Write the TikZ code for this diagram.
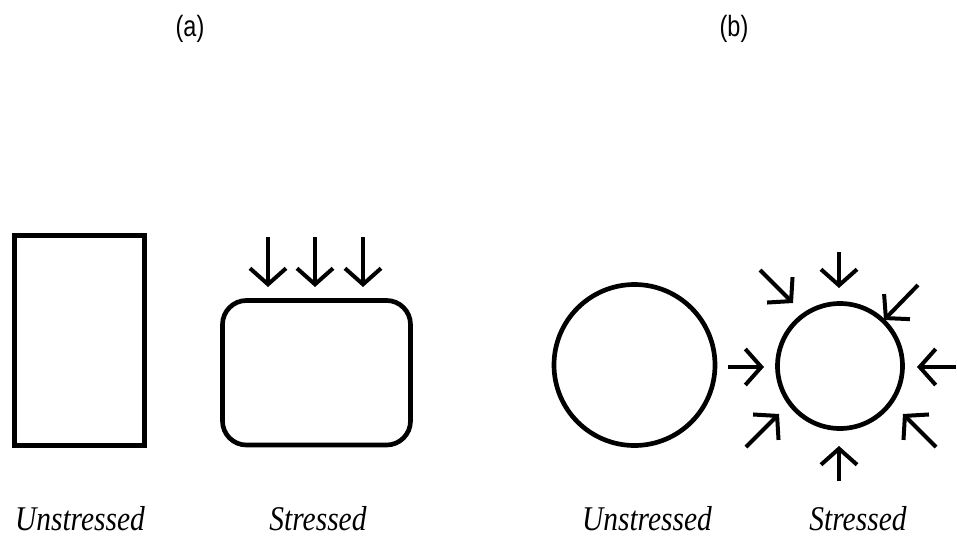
\documentclass[tikz,border=0pt]{standalone}
\usepackage{fontspec}
\setmainfont{Liberation Serif}
\newfontfamily\panelfont{Liberation Sans}
\usetikzlibrary{arrows.meta}

% narrow, tall lettering for the captions and headings
\newcommand{\narrowtext}[2]{\scalebox{#1}[1]{#2}}

\begin{document}
\begin{tikzpicture}[x=0.75pt, y=-0.75pt,
  outline/.style={draw=black, line width=3.5pt, inner sep=0pt, outer sep=0pt},
  push/.style={draw=black, line width=3pt,
    -{Straight Barb[length=12pt, width=27pt]}},
  caption/.style={anchor=base, inner sep=0pt, font=\fontsize{26pt}{30pt}\selectfont\itshape},
  panel/.style={anchor=base, inner sep=0pt, font=\panelfont\fontsize{22pt}{26pt}\selectfont}]

\useasboundingbox (0,0) rectangle (957,540);

% panel headings
\node[panel] (pa) at (190,36) {\narrowtext{0.8}{(a)}};
\node[panel] (pb) at (734,36) {\narrowtext{0.8}{(b)}};

% (a) block before and after loading
\node[outline, rectangle, minimum width=97.5pt, minimum height=157.5pt] (blockU) at (79.5,340.5) {};
\node[outline, rectangle, rounded corners=18pt, minimum width=141pt, minimum height=108.4pt] (blockS) at (316.5,372.75) {};

% vertical loads on the block
\coordinate (d1s) at (268,237); \coordinate (d1e) at (268,287);
\coordinate (d2s) at (315,237); \coordinate (d2e) at (315,287);
\coordinate (d3s) at (363,237); \coordinate (d3e) at (363,287);
\draw[push] (d1s) -- (d1e);
\draw[push] (d2s) -- (d2e);
\draw[push] (d3s) -- (d3e);

% (b) sphere before and after loading
\node[outline, circle, minimum size=120.75pt] (ballU) at (634.5,365) {};
\node[outline, circle, minimum size=93.75pt] (ballS) at (840,366) {};

% all-round pressure on the sphere
\coordinate (ls) at (728,367); \coordinate (le) at (764,367);
\coordinate (rs) at (956,367); \coordinate (re) at (917,367);
\coordinate (ts) at (839,252); \coordinate (te) at (839,288);
\coordinate (bs) at (839,481); \coordinate (be) at (839,446);
\coordinate (tls) at (760,270); \coordinate (tle) at (793,303);
\coordinate (trs) at (918,285); \coordinate (tre) at (884,320);
\coordinate (bls) at (746,447); \coordinate (ble) at (779,414);
\coordinate (brs) at (936,447); \coordinate (bre) at (903,414);
\draw[push] (ls) -- (le);
\draw[push] (rs) -- (re);
\draw[push] (ts) -- (te);
\draw[push] (bs) -- (be);
\draw[push] (tls) -- (tle);
\draw[push] (trs) -- (tre);
\draw[push] (bls) -- (ble);
\draw[push] (brs) -- (bre);

% captions
\node[caption] (c1) at (80,530) {\narrowtext{0.85}{Unstressed}};
\node[caption] (c2) at (318,530) {\narrowtext{0.85}{Stressed}};
\node[caption] (c3) at (647,530) {\narrowtext{0.85}{Unstressed}};
\node[caption] (c4) at (858,530) {\narrowtext{0.85}{Stressed}};
\end{tikzpicture}
\end{document}
